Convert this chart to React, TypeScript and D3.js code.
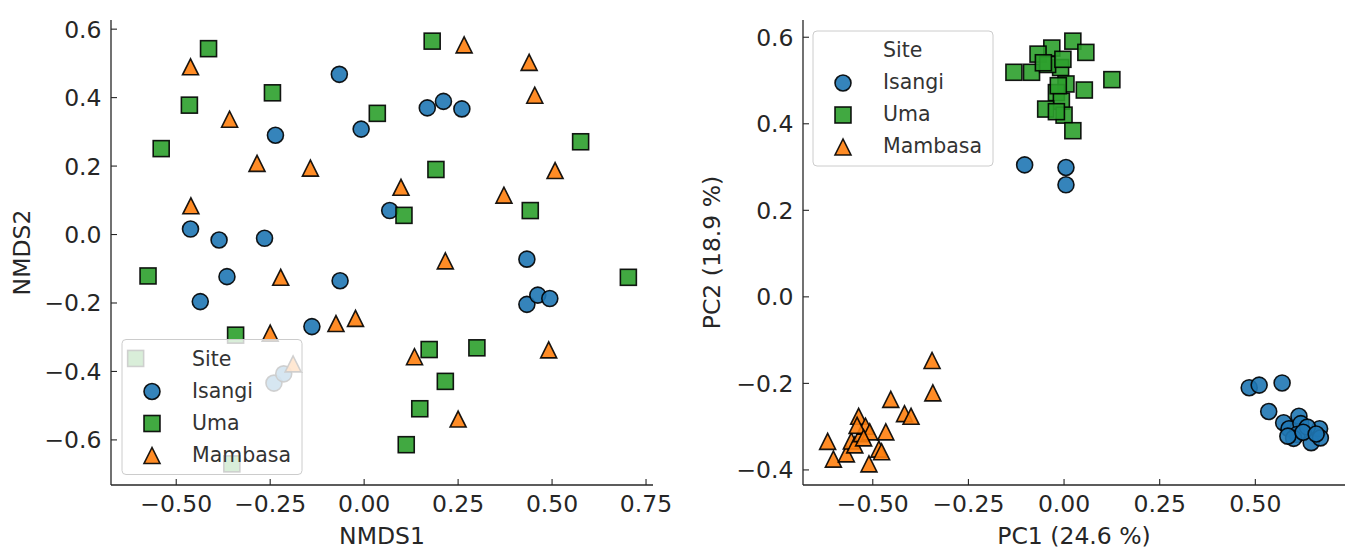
import React from "react";
import * as d3 from "d3";

// ---------- data ----------
const sites = ["Isangi", "Uma", "Mambasa"];
const siteColors = ["#1f77b4", "#2ca02c", "#ff7f0e"];
const siteShapes = ["circle", "square", "triangle"];

const nmdsIsangi: [number, number][] = [
  [-0.066, 0.468], [0.168, 0.37], [0.211, 0.389], [0.26, 0.367], [-0.008, 0.308],
  [-0.236, 0.29], [0.068, 0.07], [-0.462, 0.016], [-0.386, -0.016], [-0.265, -0.011],
  [-0.365, -0.123], [-0.064, -0.135], [-0.436, -0.196], [-0.139, -0.269], [0.433, -0.072],
  [0.433, -0.204], [0.462, -0.177], [0.494, -0.187], [-0.24, -0.434], [-0.214, -0.407],
];
const nmdsUma: [number, number][] = [
  [-0.414, 0.543], [0.181, 0.565], [-0.465, 0.378], [-0.244, 0.414], [0.035, 0.354],
  [-0.54, 0.251], [0.576, 0.271], [0.191, 0.19], [0.106, 0.056], [0.442, 0.07],
  [-0.575, -0.121], [0.703, -0.125], [-0.342, -0.294], [0.173, -0.336], [0.3, -0.331],
  [0.216, -0.429], [0.148, -0.509], [0.112, -0.614], [-0.608, -0.362], [-0.352, -0.67],
];
const nmdsMambasa: [number, number][] = [
  [-0.462, 0.49], [0.266, 0.554], [0.439, 0.503], [0.454, 0.407], [-0.358, 0.337],
  [-0.285, 0.208], [-0.143, 0.194], [0.508, 0.187], [0.098, 0.138], [0.372, 0.115],
  [-0.461, 0.084], [0.216, -0.077], [-0.222, -0.125], [-0.075, -0.26], [-0.023, -0.245],
  [-0.25, -0.288], [0.134, -0.357], [0.491, -0.337], [0.25, -0.539], [-0.189, -0.378],
];

const pcaIsangi: [number, number][] = [
  [-0.103, 0.305], [0.005, 0.299], [0.005, 0.259], [0.484, -0.21], [0.51, -0.204],
  [0.57, -0.199], [0.535, -0.265], [0.574, -0.291], [0.588, -0.305], [0.614, -0.276],
  [0.619, -0.293], [0.609, -0.318], [0.6, -0.327], [0.646, -0.337], [0.668, -0.305],
  [0.67, -0.326], [0.636, -0.301], [0.585, -0.322], [0.625, -0.313], [0.659, -0.317],
];
const pcaUma: [number, number][] = [
  [0.023, 0.591], [0.057, 0.565], [-0.032, 0.575], [-0.068, 0.561], [-0.131, 0.519],
  [-0.085, 0.519], [-0.009, 0.53], [-0.043, 0.537], [-0.003, 0.549], [0.125, 0.502],
  [0.053, 0.478], [0.005, 0.492], [-0.02, 0.472], [-0.007, 0.452], [-0.048, 0.434],
  [0.0, 0.42], [-0.02, 0.428], [0.023, 0.384], [-0.054, 0.541], [-0.015, 0.488],
];
const pcaMambasa: [number, number][] = [
  [-0.345, -0.147], [-0.343, -0.222], [-0.453, -0.237], [-0.417, -0.27], [-0.4, -0.276],
  [-0.537, -0.276], [-0.618, -0.334], [-0.603, -0.375], [-0.569, -0.363], [-0.556, -0.333],
  [-0.547, -0.342], [-0.53, -0.316], [-0.519, -0.299], [-0.508, -0.312], [-0.466, -0.312],
  [-0.484, -0.352], [-0.477, -0.358], [-0.51, -0.386], [-0.541, -0.297], [-0.524, -0.326],
];

const nmdsXTicks = [-0.5, -0.25, 0, 0.25, 0.5, 0.75];
const nmdsYTicks = [-0.6, -0.4, -0.2, 0, 0.2, 0.4, 0.6];
const pcaXTicks = [-0.5, -0.25, 0, 0.25, 0.5];
const pcaYTicks = [-0.4, -0.2, 0, 0.2, 0.4, 0.6];

// ---------- layout ----------
const W = 1349;
const H = 549;
const TOP = 20;
const BOTTOM = 485;
const FONT = "'DejaVu Sans', sans-serif";
const TEXT = "#262626";
const MS = 16; // marker size (px)

const fmt = (d: number, digits: number) => {
  const s = Math.abs(d).toFixed(digits);
  return d < -1e-9 ? "\u2212" + s : s;
};

function padded(vals: number[]): [number, number] {
  const [a, b] = d3.extent(vals) as [number, number];
  const m = (b - a) * 0.05;
  return [a - m, b + m];
}

function Marker({ shape, cx, cy, color }: { shape: string; cx: number; cy: number; color: string }) {
  const h = MS / 2;
  const common = {
    fill: color,
    stroke: "#000",
    strokeWidth: 1.6,
    fillOpacity: 0.9,
    strokeOpacity: 0.9,
    strokeLinejoin: "miter" as const,
  };
  if (shape === "circle") return <circle cx={cx} cy={cy} r={h} {...common} />;
  if (shape === "square") return <rect x={cx - h} y={cy - h} width={MS} height={MS} {...common} />;
  return <polygon points={`${cx},${cy - h} ${cx - h},${cy + h} ${cx + h},${cy + h}`} {...common} />;
}

function Legend({ x, y }: { x: number; y: number }) {
  const w = 180;
  const h = 135;
  return (
    <g transform={`translate(${x},${y})`}>
      <rect x={0} y={0} width={w} height={h} rx={4} ry={4} fill="#fff" fillOpacity={0.8} stroke="#cccccc" strokeWidth={1} />
      <text x={70} y={26} fontSize={20.5} fill="#333" fontFamily={FONT}>Site</text>
      {sites.map((s, i) => (
        <g key={s}>
          <Marker shape={siteShapes[i]} cx={30} cy={26 + (i + 1) * 32 - 6} color={siteColors[i]} />
          <text x={70} y={26 + (i + 1) * 32} fontSize={20.5} fill="#333" fontFamily={FONT}>{s}</text>
        </g>
      ))}
    </g>
  );
}

function Panel({
  x0, x1, series, xTicks, yTicks, xDigits, yDigits, xLabel, yLabel, yLabelX, legendPos,
}: {
  x0: number; x1: number; series: [number, number][][]; xTicks: number[]; yTicks: number[];
  xDigits: number; yDigits: number; xLabel: string; yLabel: string; yLabelX: number;
  legendPos: [number, number];
}) {
  const all = series.flat();
  const xs = d3.scaleLinear().domain(padded(all.map((p) => p[0]))).range([x0, x1]);
  const ys = d3.scaleLinear().domain(padded(all.map((p) => p[1]))).range([BOTTOM, TOP]);
  const cxMid = (x0 + x1) / 2;
  const cyMid = (TOP + BOTTOM) / 2;
  return (
    <g>
      {series.map((pts, si) =>
        pts.map((p, i) => (
          <Marker key={`${si}-${i}`} shape={siteShapes[si]} cx={xs(p[0])} cy={ys(p[1])} color={siteColors[si]} />
        ))
      )}
      <Legend x={legendPos[0]} y={legendPos[1]} />
      {/* spines */}
      <line x1={x0} x2={x0} y1={TOP} y2={BOTTOM} stroke={TEXT} strokeWidth={1.3} />
      <line x1={x0} x2={x1} y1={BOTTOM} y2={BOTTOM} stroke={TEXT} strokeWidth={1.3} />
      {xTicks.map((t) => (
        <g key={`x${t}`}>
          <line x1={xs(t)} x2={xs(t)} y1={BOTTOM} y2={BOTTOM - 6} stroke={TEXT} strokeWidth={1.1} />
          <text x={xs(t)} y={512} textAnchor="middle" fontSize={23.5} fill={TEXT} fontFamily={FONT}>
            {fmt(t, xDigits)}
          </text>
        </g>
      ))}
      {yTicks.map((t) => (
        <g key={`y${t}`}>
          <line x1={x0} x2={x0 + 6} y1={ys(t)} y2={ys(t)} stroke={TEXT} strokeWidth={1.1} />
          <text x={x0 - 9.5} y={ys(t)} dy="0.36em" textAnchor="end" fontSize={23.5} fill={TEXT} fontFamily={FONT}>
            {fmt(t, yDigits)}
          </text>
        </g>
      ))}
      <text x={cxMid} y={544} textAnchor="middle" fontSize={23.5} fill={TEXT} fontFamily={FONT}>
        {xLabel}
      </text>
      <text
        transform={`translate(${yLabelX},${cyMid}) rotate(-90)`}
        textAnchor="middle"
        fontSize={23.5}
        fill={TEXT}
        fontFamily={FONT}
      >
        {yLabel}
      </text>
    </g>
  );
}

export default function App() {
  return (
    <svg
      width={W}
      height={H}
      viewBox={`0 0 ${W} ${H}`}
      style={{ position: "absolute", left: 0, top: 0, background: "#fff" }}
    >
      <rect x={0} y={0} width={W} height={H} fill="#fff" />
      <Panel
        x0={111}
        x1={653}
        series={[nmdsIsangi, nmdsUma, nmdsMambasa]}
        xTicks={nmdsXTicks}
        yTicks={nmdsYTicks}
        xDigits={2}
        yDigits={1}
        xLabel="NMDS1"
        yLabel="NMDS2"
        yLabelX={30}
        legendPos={[122, 339.5]}
      />
      <Panel
        x0={803}
        x1={1345}
        series={[pcaIsangi, pcaUma, pcaMambasa]}
        xTicks={pcaXTicks}
        yTicks={pcaYTicks}
        xDigits={2}
        yDigits={1}
        xLabel="PC1 (24.6 %)"
        yLabel="PC2 (18.9 %)"
        yLabelX={720}
        legendPos={[813, 31]}
      />
    </svg>
  );
}
